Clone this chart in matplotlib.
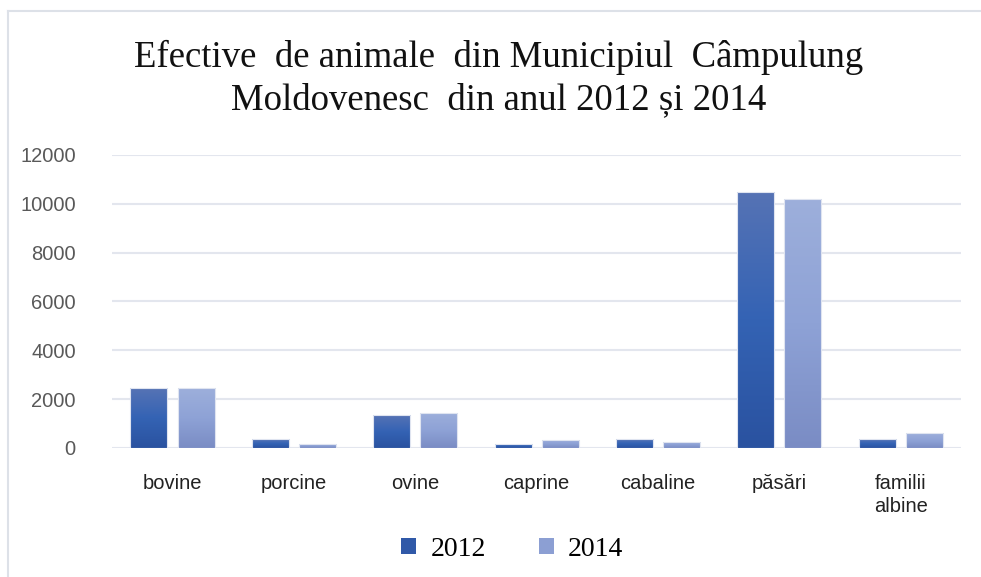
import numpy as np
import matplotlib.pyplot as plt
from matplotlib.colors import LinearSegmentedColormap
from matplotlib.lines import Line2D
from matplotlib.patches import Patch

categories = ['bovine', 'porcine', 'ovine', 'caprine', 'cabaline', 'păsări', 'familii\nalbine']
values_2012 = [2450, 350, 1350, 180, 350, 10500, 350]
values_2014 = [2450, 180, 1450, 340, 250, 10200, 600]
years = ['2012', '2014']
yticks = [0, 2000, 4000, 6000, 8000, 10000, 12000]

# gradient colours (bottom -> top)
grad_2012 = ['#2a52a0', '#3463b4', '#5673b5']
grad_2014 = ['#7a8cc4', '#8ea2d6', '#9dafdb']
solid_2012 = '#3059a8'
solid_2014 = '#8c9fd3'

fig = plt.figure(figsize=(9.81, 5.77), dpi=100)
ax = fig.add_axes([0.114, 0.2236, 0.866, 0.5078])

x = np.arange(len(categories))
w = 0.305
off = 0.194


def gradient_bars(xs, vals, colors):
    cmap = LinearSegmentedColormap.from_list('g', colors)
    bars = ax.bar(xs, vals, w, color='none', edgecolor='#dfe4f0', linewidth=0.8, zorder=3)
    for b in bars:
        x0, y0 = b.get_x(), b.get_y()
        img = ax.imshow(np.linspace(0, 1, 256).reshape(-1, 1), cmap=cmap, origin='lower',
                        extent=[x0, x0 + b.get_width(), y0, y0 + b.get_height()],
                        aspect='auto', zorder=2)
        img.set_clip_path(b)
    return bars


gradient_bars(x - off, values_2012, grad_2012)
gradient_bars(x + off, values_2014, grad_2014)

ax.set_xlim(-0.5, len(categories) - 0.5)
ax.set_ylim(0, 12000)
ax.set_yticks(yticks)
ax.set_xticks(x)
ax.set_xticklabels(categories, fontsize=14.5, family='Liberation Sans', color='#222222',
                   linespacing=1.25)
ax.set_yticklabels([str(t) for t in yticks], fontsize=14.5, family='Liberation Sans',
                   color='#595959')
ax.tick_params(axis='y', length=0, pad=26)
ax.tick_params(axis='x', length=0, pad=19)
ax.grid(axis='y', color='#e3e6ee', linewidth=1.5, zorder=0)
ax.set_axisbelow(True)
for s in ax.spines.values():
    s.set_visible(False)

fig.text(0.508, 0.9, 'Efective  de animale  din Municipiul  Câmpulung',
         ha='center', va='center', fontsize=26.5, family='Liberation Serif', color='#111111')
fig.text(0.508, 0.828, 'Moldovenesc  din anul 2012 și 2014',
         ha='center', va='center', fontsize=26.5, family='Liberation Serif', color='#111111')

handles = [Patch(facecolor=solid_2012), Patch(facecolor=solid_2014)]
fig.legend(handles, years, loc='center', bbox_to_anchor=(0.522, 0.048), ncol=2,
           frameon=False, prop={'family': 'Liberation Serif', 'size': 20},
           handlelength=0.55, handleheight=0.55, columnspacing=1.9, handletextpad=0.5)

# chart border (top and left)
fig.add_artist(Line2D([0.008, 1.0], [0.981, 0.981], color='#dde1e8', linewidth=1.5))
fig.add_artist(Line2D([0.008, 0.008], [0.0, 0.981], color='#dde1e8', linewidth=1.5))

fig.savefig('out.png', dpi=100)
